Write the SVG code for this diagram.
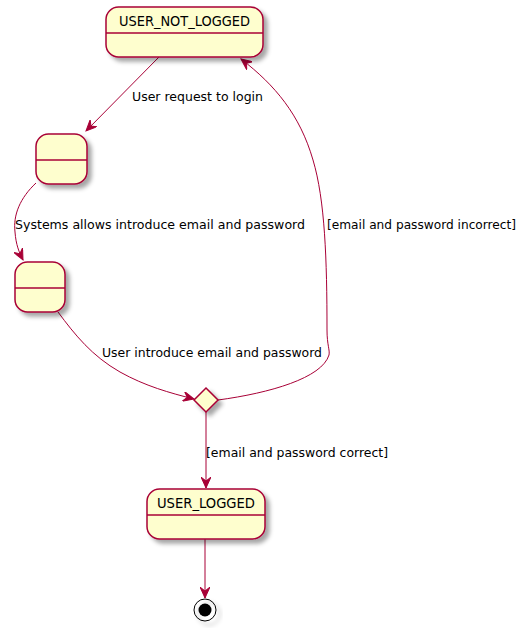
<svg xmlns="http://www.w3.org/2000/svg" width="525" height="631" viewBox="0 0 525 631">
<defs>
<filter id="sh" x="-20%" y="-20%" width="150%" height="150%">
<feGaussianBlur in="SourceAlpha" stdDeviation="2"/>
<feOffset dx="4" dy="4" result="b"/>
<feColorMatrix in="b" type="matrix" values="0 0 0 0 0  0 0 0 0 0  0 0 0 0 0  0 0 0 0.35 0"/>
<feMerge><feMergeNode/><feMergeNode in="SourceGraphic"/></feMerge>
</filter>
<marker id="arr" viewBox="0 0 12 10" refX="11" refY="5" markerWidth="12" markerHeight="10" markerUnits="userSpaceOnUse" orient="auto">
<path d="M0,0 L11,5 L0,10 L4,5 Z" fill="#A80036" stroke="#A80036" stroke-width="1"/>
</marker>
</defs>
<style>
.st{fill:#FEFECE;stroke:#A80036;stroke-width:1.5;filter:url(#sh)}
.dv{stroke:#A80036;stroke-width:1.5}
.ed{fill:none;stroke:#A80036;stroke-width:1;marker-end:url(#arr)}
.tt{font-family:"DejaVu Sans","Liberation Sans",sans-serif;font-size:14px;fill:#000;text-anchor:middle}
.lb{font-family:"DejaVu Sans","Liberation Sans",sans-serif;font-size:12.5px;fill:#000}
</style>
<g id="connectors">
<path class="ed" d="M159,57 L86,131"/>
<text class="lb" x="132" y="101" textLength="131" lengthAdjust="spacingAndGlyphs">User request to login</text>
<path class="ed" d="M36,183 C20,198 13,215 15,232 C16,245 19,252 23,260"/>
<text class="lb" x="15" y="229" textLength="290" lengthAdjust="spacingAndGlyphs">Systems allows introduce email and password</text>
<path class="ed" d="M58,312 C75,335 92,356 120,372 C145,386 170,393 194,399"/>
<text class="lb" x="102" y="357" textLength="220" lengthAdjust="spacingAndGlyphs">User introduce email and password</text>
<path class="ed" d="M218,400 C270,393 322,378 329,355 C330,350 327,345 327,330 C327,260 325,200 313,160 C300,115 275,85 241,59"/>
<text class="lb" x="327" y="229" textLength="189" lengthAdjust="spacingAndGlyphs">[email and password incorrect]</text>
<path class="ed" d="M206,412 L206,488"/>
<text class="lb" x="206" y="457" textLength="182" lengthAdjust="spacingAndGlyphs">[email and password correct]</text>
<path class="ed" d="M205,539 L205,598"/>
</g>
<g id="USER_NOT_LOGGED">
<rect class="st" x="106" y="7" width="157" height="50" rx="12.5"/>
<line class="dv" x1="106" y1="33" x2="263" y2="33"/>
<text class="tt" x="184.5" y="26" textLength="131" lengthAdjust="spacingAndGlyphs">USER_NOT_LOGGED</text>
</g>
<g id="state2">
<rect class="st" x="36" y="134" width="51" height="50" rx="12.5"/>
<line class="dv" x1="36" y1="160" x2="87" y2="160"/>
</g>
<g id="state3">
<rect class="st" x="15" y="262" width="50" height="50" rx="12.5"/>
<line class="dv" x1="15" y1="288" x2="65" y2="288"/>
</g>
<g id="choice">
<polygon class="st" points="206,388 218,400 206,412 194,400"/>
</g>
<g id="USER_LOGGED">
<rect class="st" x="147" y="489" width="118" height="50" rx="12.5"/>
<line class="dv" x1="147" y1="515" x2="265" y2="515"/>
<text class="tt" x="206" y="508" textLength="98" lengthAdjust="spacingAndGlyphs">USER_LOGGED</text>
</g>
<g id="end">
<circle cx="205" cy="610" r="11" fill="none" stroke="#000" stroke-width="1" style="filter:url(#sh)"/>
<circle cx="205" cy="610" r="6.5" fill="#000"/>
</g>
</svg>
